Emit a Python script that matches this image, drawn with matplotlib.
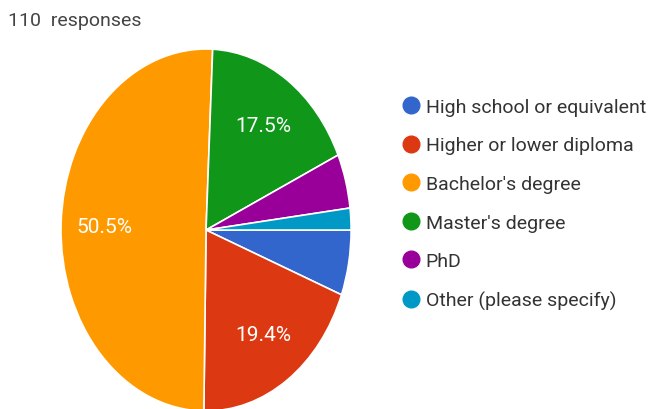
import matplotlib
matplotlib.use("Agg")
import matplotlib.pyplot as plt
from matplotlib.lines import Line2D

# 数据 (103 valid answers out of 110 responses)
labels = ["High school or equivalent", "Higher or lower diploma", "Bachelor's degree",
          "Master's degree", "PhD", "Other (please specify)"]
counts = [6, 20, 52, 18, 5, 2]
colors = ["#3366CC", "#DC3912", "#FF9900", "#109618", "#990099", "#0099C6"]
n_responses = 110

plt.rcParams["font.family"] = ["Roboto", "DejaVu Sans"]

fig = plt.figure(figsize=(6.49, 4.10), dpi=100)
ax = fig.add_axes([0.094, -0.005, 0.447, 0.883])

def fmt(p):
    return f"{p:.1f}%" if p > 10 else ""

wedges, _, autotexts = ax.pie(counts, colors=colors, startangle=0, counterclock=False,
                              autopct=fmt, pctdistance=0.7,
                              wedgeprops=dict(edgecolor="white", linewidth=1.2),
                              textprops=dict(color="white", fontsize=15))
ax.set_aspect("auto")
ax.set_xlim(-1, 1); ax.set_ylim(-1, 1)

fig.text(0.012, 0.95, f"{n_responses}  responses", fontsize=14, color="#444444",
         va="center", ha="left")

handles = [Line2D([], [], marker="o", linestyle="none", markersize=12,
                  markerfacecolor=c, markeredgecolor=c) for c in colors]
fig.legend(handles, labels, loc="upper left", bbox_to_anchor=(0.608, 0.778),
           frameon=False, fontsize=14, labelspacing=1.06, handletextpad=0.3,
           handlelength=0.9, borderaxespad=0, labelcolor="#333333")

fig.savefig("out.png", dpi=100, facecolor="white")
